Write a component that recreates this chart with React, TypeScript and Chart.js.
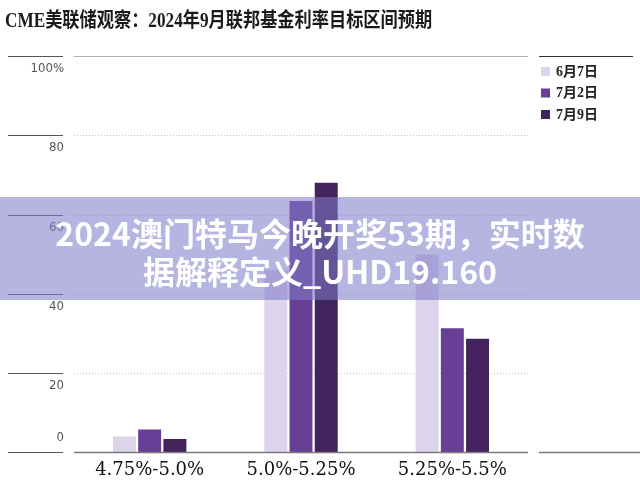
import React, { useEffect, useRef } from "react";
import { Chart, registerables } from "chart.js";
Chart.register(...registerables);

const TITLE = "CME美联储观察：2024年9月联邦基金利率目标区间预期";
const BANNER_LINE_1 = "2024澳门特马今晚开奖53期，实时数";
const BANNER_LINE_2 = "据解释定义_UHD19.160";

const categories = ["4.75%-5.0%", "5.0%-5.25%", "5.25%-5.5%"];
const seriesLabels = ["6月7日", "7月2日", "7月9日"];
const jun7 = [4.0, 46.1, 49.9];
const jul2 = [5.8, 63.4, 31.3];
const jul9 = [3.4, 68.0, 28.7];
const seriesColors = ["#DDD3EB", "#673F95", "#42235B"];
const yTicks = [0, 20, 40, 60, 80, 100];
const yTickLabels = ["0", "20", "40", "60", "80", "100%"];

function pTopOf(chart: any) {
  return Math.round(chart.scales.y.getPixelForValue(100));
}

const decor = {
  id: "decor",
  beforeDatasetsDraw(chart: any) {
    const { ctx, chartArea: a, scales } = chart;
    const y = scales.y;
    ctx.save();
    ctx.lineWidth = 1;
    ctx.strokeStyle = "#c4c4c4";
    ctx.setLineDash([1, 2]);
    yTicks.forEach((v) => {
      if (v === 0 || v === 100) return;
      const py = Math.round(y.getPixelForValue(v)) + 0.5;
      ctx.beginPath();
      ctx.moveTo(a.left, py);
      ctx.lineTo(a.right, py);
      ctx.stroke();
    });
    ctx.setLineDash([]);
    const pTop = Math.round(y.getPixelForValue(100)) + 0.5;
    ctx.strokeStyle = "#b0b0b0";
    ctx.beginPath();
    ctx.moveTo(a.left, pTop);
    ctx.lineTo(a.right, pTop);
    ctx.stroke();
    ctx.strokeStyle = "#333";
    ctx.beginPath();
    ctx.moveTo(a.right + 11, pTop);
    ctx.lineTo(a.right + 105, pTop);
    ctx.stroke();
    ctx.restore();
  },
  afterDatasetsDraw(chart: any) {
    const { ctx, chartArea: a, scales } = chart;
    const y = scales.y;
    ctx.save();
    const p0 = Math.round(y.getPixelForValue(0)) + 0.5;
    ctx.strokeStyle = "#7a7a7a";
    ctx.lineWidth = 1.5;
    ctx.beginPath();
    ctx.moveTo(a.left, p0);
    ctx.lineTo(a.right, p0);
    ctx.stroke();
    ctx.beginPath();
    ctx.moveTo(a.right + 11, p0);
    ctx.lineTo(a.right + 112, p0);
    ctx.stroke();
    ctx.font = "13px 'Liberation Sans Narrow', 'DejaVu Sans Condensed', Roboto, sans-serif";
    ctx.textAlign = "right";
    ctx.textBaseline = "middle";
    yTicks.forEach((v, i) => {
      const py = Math.round(y.getPixelForValue(v)) + 0.5;
      ctx.strokeStyle = "#555";
      ctx.lineWidth = 1.2;
      ctx.beginPath();
      ctx.moveTo(8, py);
      ctx.lineTo(63, py);
      ctx.stroke();
      ctx.fillStyle = "#555";
      const ly = v === 0 ? py - 15 : py + 12;
      ctx.fillText(yTickLabels[i], 64, ly);
    });
    const lx = a.right + 13;
    ctx.textAlign = "left";
    ctx.font = "bold 14px 'Liberation Serif', 'Noto Sans CJK SC', serif";
    chart.data.datasets.forEach((ds: any, i: number) => {
      const cy = pTopOf(chart) + 16 + i * 21.5;
      ctx.fillStyle = ds.backgroundColor;
      ctx.fillRect(lx, cy - 5, 9, 9);
      ctx.fillStyle = "#222";
      ctx.fillText(ds.label, lx + 15, cy);
    });
    ctx.restore();
  },
};

export default function App() {
  const ref = useRef<HTMLCanvasElement | null>(null);
  useEffect(() => {
    if (!ref.current) return;
    const data = [jun7, jul2, jul9];
    const chart = new Chart(ref.current, {
      type: "bar",
      data: {
        labels: categories,
        datasets: seriesLabels.map((label, i) => ({
          label,
          data: data[i],
          backgroundColor: seriesColors[i],
          borderWidth: 0,
          categoryPercentage: 0.5,
          barPercentage: 0.91,
        })),
      },
      options: {
        responsive: false,
        animation: false,
        layout: { padding: { left: 74, right: 112, top: 56, bottom: 10 } },
        plugins: { legend: { display: false }, tooltip: { enabled: false }, title: { display: false } },
        scales: {
          x: {
            grid: { display: false, drawTicks: false },
            border: { display: false },
            ticks: {
              padding: 7,
              color: "#111",
              font: { family: "'DejaVu Serif', 'Liberation Serif', serif", size: 18 },
            },
          },
          y: { display: false, min: 0, max: 100 },
        },
      },
      plugins: [decor],
    } as any);
    return () => chart.destroy();
  }, []);

  return (
    <div style={{ position: "absolute", left: 0, top: 0, width: 640, height: 498, background: "#fff", overflow: "hidden" }}>
      <canvas ref={ref} width={640} height={498} style={{ display: "block", position: "absolute", left: 0, top: 0 }} />
      <div
        style={{
          position: "absolute",
          left: 5,
          top: 6,
          fontFamily: "'Liberation Serif', 'Noto Sans CJK SC', serif",
          fontWeight: "bold",
          fontSize: 20,
          lineHeight: "28px",
          color: "#1a1a1a",
          whiteSpace: "nowrap",
          transform: "scaleX(0.86)",
          transformOrigin: "left center",
        }}
      >
        {TITLE}
      </div>
      <div
        style={{
          position: "absolute",
          left: 0,
          top: 197,
          width: 640,
          height: 103,
          background: "rgba(127,123,200,0.57)",
          color: "#fff",
          fontFamily: "'Noto Sans CJK SC', sans-serif",
          fontWeight: "bold",
          fontSize: 32,
          lineHeight: "38px",
          textAlign: "center",
          paddingTop: 16,
          boxSizing: "border-box",
          whiteSpace: "nowrap",
        }}
      >
        <div>{BANNER_LINE_1}</div>
        <div>{BANNER_LINE_2}</div>
      </div>
    </div>
  );
}
